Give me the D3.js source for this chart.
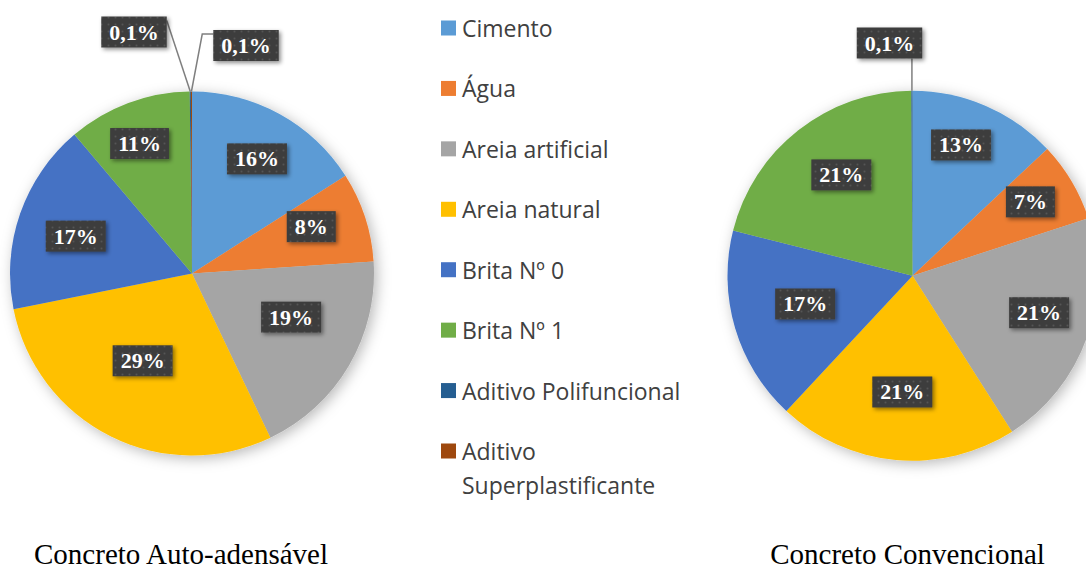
<!DOCTYPE html>
<html>
<head>
<meta charset="utf-8">
<script src="https://cdn.jsdelivr.net/npm/d3@7"></script>
<style>
  html, body { margin: 0; padding: 0; background: #ffffff; overflow: hidden; }
  svg { display: block; }
</style>
</head>
<body>
<svg id="chart" width="1086" height="569"></svg>
<script>
// ---- Data ----
const categories = ["Cimento", "Água", "Areia artificial", "Areia natural", "Brita Nº 0", "Brita Nº 1", "Aditivo Polifuncional", "Aditivo Superplastificante"];
const autoValues = [16, 8, 19, 29, 17, 11, 0.1, 0.1];
const convValues = [13, 7, 21, 21, 17, 21, 0.1, 0];
const sliceColors = ["#5B9BD5", "#ED7D31", "#A5A5A5", "#FFC000", "#4472C4", "#70AD47", "#255E91", "#9E480E"];
const chartTitles = ["Concreto Auto-adensável", "Concreto Convencional"];

// ---- Layout config (label placement: [radius fraction, angle offset deg]) ----
const autoLabelLayout = [[0.724, 0.8], [0.704, -3.3], [0.595, -6.6], [0.551, 2.9], [0.671, -1.4], [0.770, -1.5]];
const convLabelLayout = [[0.754, -3], [0.752, -1.4], [0.713, -3.4], [0.631, -0.2], [0.600, 1.7], [0.667, 2.9]];

// ---- Setup ----
const svg = d3.select("#chart");
const color = d3.scaleOrdinal().domain(categories).range(sliceColors);

const defs = svg.append("defs");
const shadow = defs.append("filter").attr("id", "pieShadow")
  .attr("x", "-20%").attr("y", "-20%").attr("width", "140%").attr("height", "140%");
shadow.append("feDropShadow").attr("dx", 3).attr("dy", 3).attr("stdDeviation", 7)
  .attr("flood-color", "#000").attr("flood-opacity", 0.28);

const boxShadow = defs.append("filter").attr("id", "boxShadow")
  .attr("x", "-30%").attr("y", "-30%").attr("width", "160%").attr("height", "160%");
boxShadow.append("feDropShadow").attr("dx", 2).attr("dy", 2).attr("stdDeviation", 2)
  .attr("flood-color", "#000").attr("flood-opacity", 0.45);

const pat = defs.append("pattern").attr("id", "dots")
  .attr("width", 7).attr("height", 7).attr("patternUnits", "userSpaceOnUse");
pat.append("rect").attr("width", 7).attr("height", 7).attr("fill", "#3d3d3d");
pat.append("circle").attr("cx", 3.5).attr("cy", 3.5).attr("r", 1).attr("fill", "#555555");

function fmt(v, total) {
  const p = v / total * 100;
  if (p < 1) return p.toFixed(1).replace(".", ",") + "%";
  return Math.round(p) + "%";
}

function labelBox(g, x, y, text) {
  const t = g.append("text")
    .attr("x", x).attr("y", y)
    .attr("text-anchor", "middle").attr("dominant-baseline", "central")
    .attr("font-family", "'Liberation Serif', 'Times New Roman', serif")
    .attr("font-weight", "bold").attr("font-size", 22)
    .attr("fill", "#ffffff").text(text);
  const bb = t.node().getBBox();
  const padX = 8, padY = 3;
  g.insert("rect", "text:last-child")
    .attr("x", bb.x - padX).attr("y", bb.y - padY)
    .attr("width", bb.width + 2 * padX).attr("height", bb.height + 2 * padY)
    .attr("fill", "url(#dots)").attr("filter", "url(#boxShadow)");
  return { x: bb.x - padX, y: bb.y - padY, w: bb.width + 2 * padX, h: bb.height + 2 * padY };
}

function drawPie(values, cx, cy, r, layout, smallLabels) {
  const data = categories.map((c, i) => ({ cat: c, value: values[i], idx: i }));
  const total = d3.sum(values);
  const pie = d3.pie().value(d => d.value).sort(null);
  const arcs = pie(data);
  const arc = d3.arc().innerRadius(0).outerRadius(r);

  const g = svg.append("g").attr("transform", `translate(${cx},${cy})`);
  g.append("g").attr("filter", "url(#pieShadow)")
    .selectAll("path").data(arcs.filter(a => a.data.value > 0)).join("path")
    .attr("d", arc).attr("fill", d => color(d.data.cat));

  const lg = svg.append("g");
  arcs.forEach(a => {
    if (a.data.value <= 0) return;
    const p = a.data.value / total;
    if (p >= 0.01) {
      const [f, dA] = layout[a.data.idx];
      const ang = (a.startAngle + a.endAngle) / 2 + dA * Math.PI / 180;
      const lx = cx + f * r * Math.sin(ang), ly = cy - f * r * Math.cos(ang);
      labelBox(lg.append("g"), lx, ly, fmt(a.data.value, total));
    }
  });

  // small slices with leader lines
  const small = arcs.filter(a => a.data.value > 0 && a.data.value / total < 0.01);
  small.forEach((a, k) => {
    const spec = smallLabels[k];
    const mid = (a.startAngle + a.endAngle) / 2;
    const ox = cx + r * Math.sin(mid), oy = cy - r * Math.cos(mid);
    const b = labelBox(lg.append("g"), cx + spec.dx, cy + spec.dy, fmt(a.data.value, total));
    let pts;
    if (spec.side === "left") pts = [[ox, oy], [b.x + b.w, b.y + 4]];
    else if (spec.side === "right") pts = [[ox, oy], [b.x - 11, b.y + 4], [b.x, b.y + 4]];
    else pts = [[ox, oy], [ox, b.y + b.h]];
    lg.insert("path", ":first-child")
      .attr("d", d3.line()(pts)).attr("fill", "none")
      .attr("stroke", "#7f7f7f").attr("stroke-width", 1.5);
  });
}

drawPie(autoValues, 192, 273.5, 182, autoLabelLayout, [
  { dx: -58, dy: -241.5, side: "left" },
  { dx: 54, dy: -228, side: "right" }
]);
drawPie(convValues, 912.5, 275.7, 185, convLabelLayout, [
  { dx: -23, dy: -232.7, side: "up" }
]);

// ---- Legend ----
const legend = svg.append("g");
const legY = d3.scalePoint().domain(categories).range([28, 451]);
categories.forEach(c => {
  const y = legY(c);
  legend.append("rect").attr("x", 441).attr("y", y - 7.5).attr("width", 15).attr("height", 15)
    .attr("fill", color(c));
  const t = legend.append("text").attr("x", 462).attr("y", y)
    .attr("dominant-baseline", "central")
    .attr("font-family", "'Open Sans', Lato, sans-serif").attr("font-size", 23)
    .attr("fill", "#404040");
  if (c === "Aditivo Superplastificante") {
    t.append("tspan").attr("x", 462).text("Aditivo");
    t.append("tspan").attr("x", 462).attr("dy", 34).text("Superplastificante");
  } else {
    t.text(c);
  }
});

// ---- Titles ----
const titleX = [181, 907.5];
chartTitles.forEach((t, i) => {
  svg.append("text").attr("x", titleX[i]).attr("y", 564)
    .attr("text-anchor", "middle")
    .attr("font-family", "'Liberation Serif', 'Times New Roman', serif")
    .attr("font-size", 29).attr("fill", "#000").text(t);
});
</script>
</body>
</html>
